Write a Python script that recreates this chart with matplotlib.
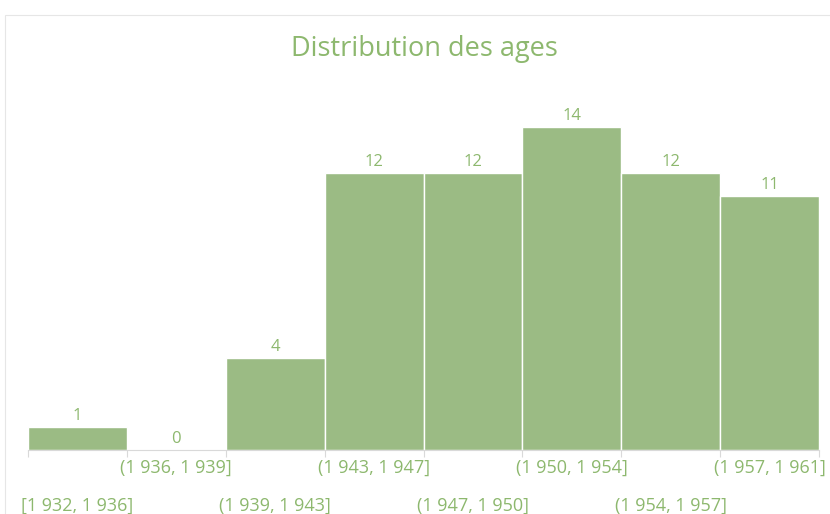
import matplotlib.pyplot as plt
import matplotlib.patches as patches

# Données
classes = ['[1 932, 1 936]', '(1 936, 1 939]', '(1 939, 1 943]', '(1 943, 1 947]',
           '(1 947, 1 950]', '(1 950, 1 954]', '(1 954, 1 957]', '(1 957, 1 961]']
effectifs = [1, 0, 4, 12, 12, 14, 12, 11]

VERT_BARRE = '#9BBB84'
VERT_TEXTE = '#8DB86E'
GRIS_AXE = '#D9D9D9'

plt.rcParams['font.family'] = ['Open Sans', 'DejaVu Sans']

fig = plt.figure(figsize=(8.3, 5.14), dpi=100)
fig.patch.set_facecolor('white')

# Cadre du graphique
cadre = patches.Rectangle((5 / 830, -0.01), 1.0, (514 - 15) / 514 + 0.01,
                          transform=fig.transFigure, fill=False,
                          edgecolor='#E6E6E6', linewidth=0.8)
fig.patches.append(cadre)

ax = fig.add_axes([28 / 830, (514 - 450) / 514, (819 - 28) / 830, 350 / 514])
positions = list(range(len(classes)))
ax.bar(positions, effectifs, width=1.0, color=VERT_BARRE, edgecolor='white', linewidth=1)
ax.set_xlim(-0.5, len(classes) - 0.5)
ax.set_ylim(0, 350 / 23.07)

for s in ['top', 'right', 'left']:
    ax.spines[s].set_visible(False)
ax.spines['bottom'].set_color(GRIS_AXE)
ax.set_yticks([])

# Graduations aux bords des classes
ax.set_xticks([p - 0.5 for p in positions] + [len(classes) - 0.5])
ax.set_xticklabels([])
ax.tick_params(axis='x', length=5, color=GRIS_AXE, direction='out')

# Étiquettes décalées sur deux rangées (décalages en points, 1 pt = 100/72 px)
for i, lab in enumerate(classes):
    decal = -18 * 0.72 if i % 2 == 1 else -56 * 0.72
    ax.annotate(lab, (i, 0), xytext=(0, decal), textcoords='offset points',
                ha='center', va='center', fontsize=13, color=VERT_TEXTE,
                annotation_clip=False)

# Valeurs au-dessus des barres
for i, v in enumerate(effectifs):
    ax.annotate(str(v), (i, v), xytext=(0, 2), textcoords='offset points',
                ha='center', va='bottom', fontsize=12, color=VERT_TEXTE)

fig.text(424 / 830, 1 - 49 / 514, 'Distribution des ages', ha='center', va='center',
         fontsize=19.5, color=VERT_TEXTE)

fig.savefig('out.png', dpi=100, facecolor='white')
